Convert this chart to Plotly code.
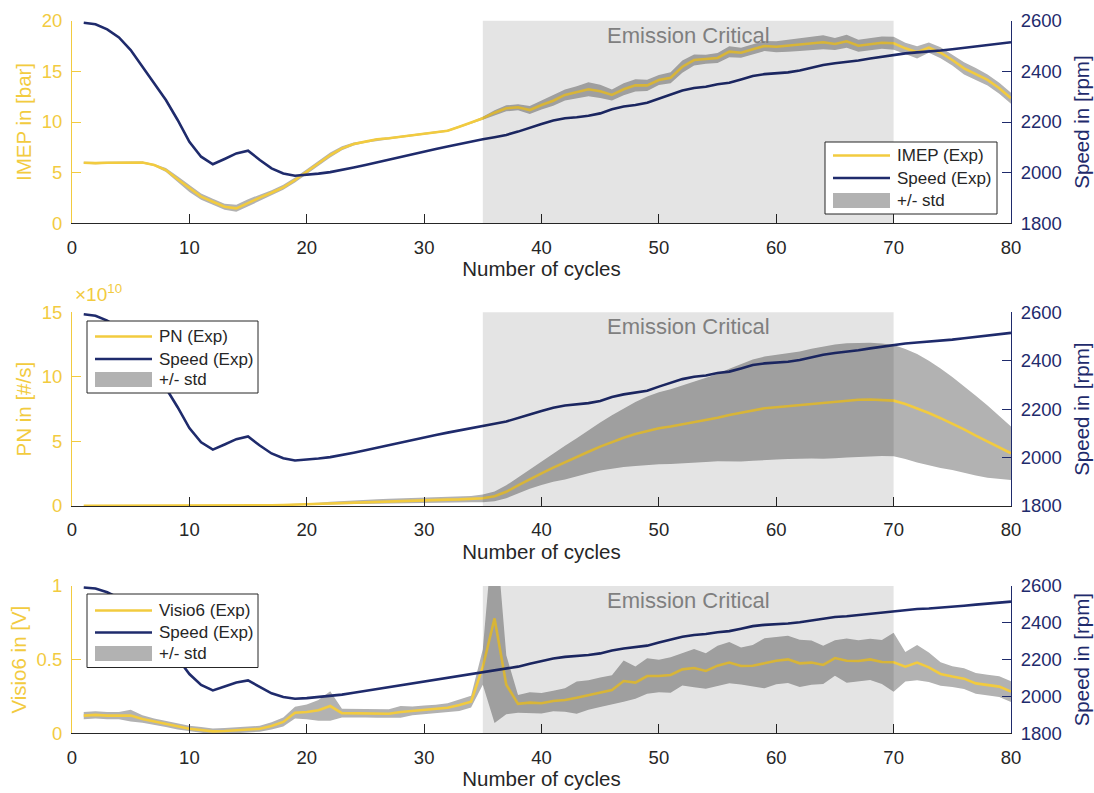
import plotly.graph_objects as go

# ---- data -------------------------------------------------------------
cycles = list(range(1, 81))

speed_rpm = [2592, 2586, 2566, 2534, 2484, 2418, 2353, 2287, 2208, 2122,
             2063, 2033, 2054, 2076, 2087, 2050, 2017, 1997, 1988, 1991,
             1996, 2002, 2010, 2020, 2030, 2041, 2050, 2061, 2072, 2083,
             2093, 2103, 2113, 2122, 2132, 2140, 2149, 2162, 2178, 2192,
             2206, 2215, 2219, 2225, 2234, 2250, 2261, 2267, 2276, 2293,
             2309, 2324, 2334, 2339, 2349, 2355, 2368, 2382, 2389, 2392,
             2396, 2403, 2414, 2425, 2432, 2436, 2443, 2451, 2458, 2463,
             2471, 2475, 2478, 2482, 2487, 2493, 2499, 2504, 2509, 2515]

imep_bar = [5.98, 5.94, 5.98, 5.98, 6.04, 6.00, 5.75, 5.26, 4.34, 3.45,
            2.63, 2.13, 1.64, 1.48, 2.03, 2.53, 3.02, 3.55, 4.27, 5.09,
            5.92, 6.74, 7.40, 7.83, 8.06, 8.29, 8.39, 8.55, 8.70, 8.88,
            9.00, 9.14, 9.54, 9.93, 10.37, 10.92, 11.35, 11.45, 11.18, 11.68,
            12.10, 12.67, 12.93, 13.23, 13.03, 12.67, 13.23, 13.62, 13.62, 14.15,
            14.37, 15.46, 16.12, 16.19, 16.32, 16.94, 16.84, 17.18, 17.50, 17.43,
            17.53, 17.67, 17.77, 17.87, 17.70, 17.97, 17.53, 17.70, 17.83, 17.77,
            17.27, 16.88, 17.34, 16.84, 16.12, 15.30, 14.74, 14.15, 13.33, 12.34]

imep_std = [0.10, 0.10, 0.10, 0.10, 0.10, 0.10, 0.10, 0.20, 0.30, 0.35,
            0.30, 0.30, 0.30, 0.35, 0.35, 0.30, 0.25, 0.25, 0.25, 0.25,
            0.25, 0.25, 0.20, 0.15, 0.10, 0.10, 0.10, 0.10, 0.10, 0.10,
            0.10, 0.10, 0.10, 0.10, 0.15, 0.25, 0.30, 0.30, 0.40, 0.45,
            0.50, 0.55, 0.60, 0.70, 0.65, 0.55, 0.60, 0.60, 0.55, 0.50,
            0.55, 0.60, 0.55, 0.45, 0.50, 0.55, 0.50, 0.50, 0.50, 0.55,
            0.60, 0.65, 0.65, 0.70, 0.60, 0.65, 0.60, 0.60, 0.60, 0.65,
            0.55, 0.60, 0.50, 0.55, 0.55, 0.60, 0.60, 0.55, 0.55, 0.55]

# particle number in units of 1e10 #/s
pn_e10 = [0.02, 0.02, 0.02, 0.02, 0.02, 0.02, 0.02, 0.02, 0.02, 0.02,
          0.02, 0.02, 0.03, 0.03, 0.03, 0.04, 0.06, 0.08, 0.11, 0.14,
          0.18, 0.22, 0.26, 0.30, 0.33, 0.36, 0.39, 0.41, 0.43, 0.45,
          0.47, 0.49, 0.51, 0.54, 0.60, 0.75, 1.10, 1.60, 2.09, 2.53,
          2.97, 3.36, 3.77, 4.20, 4.60, 4.96, 5.29, 5.58, 5.83, 6.02,
          6.15, 6.32, 6.48, 6.66, 6.84, 7.05, 7.23, 7.42, 7.57, 7.65,
          7.74, 7.82, 7.92, 8.00, 8.10, 8.18, 8.23, 8.25, 8.23, 8.16,
          7.90, 7.57, 7.20, 6.80, 6.38, 5.94, 5.45, 4.98, 4.53, 4.08]

pn_std_e10 = [0.01, 0.01, 0.01, 0.01, 0.01, 0.01, 0.01, 0.01, 0.01, 0.01,
              0.01, 0.01, 0.01, 0.01, 0.01, 0.02, 0.03, 0.04, 0.05, 0.06,
              0.08, 0.10, 0.12, 0.14, 0.15, 0.16, 0.17, 0.18, 0.19, 0.20,
              0.20, 0.21, 0.22, 0.24, 0.30, 0.38, 0.50, 0.62, 0.76, 0.90,
              1.10, 1.30, 1.48, 1.67, 1.86, 2.06, 2.27, 2.48, 2.65, 2.79,
              2.90, 3.02, 3.14, 3.26, 3.38, 3.58, 3.78, 3.92, 4.00, 4.05,
              4.10, 4.15, 4.25, 4.35, 4.41, 4.42, 4.42, 4.40, 4.36, 4.30,
              4.26, 4.20, 4.05, 3.85, 3.60, 3.35, 3.08, 2.80, 2.45, 2.07]

visio6_v = [0.120, 0.125, 0.120, 0.120, 0.120, 0.097, 0.080, 0.063, 0.045, 0.031,
            0.022, 0.013, 0.016, 0.020, 0.025, 0.031, 0.050, 0.077, 0.140, 0.145,
            0.156, 0.185, 0.137, 0.137, 0.137, 0.135, 0.133, 0.145, 0.152, 0.158,
            0.163, 0.174, 0.192, 0.215, 0.450, 0.780, 0.330, 0.200, 0.208, 0.204,
            0.219, 0.226, 0.242, 0.260, 0.278, 0.294, 0.355, 0.344, 0.389, 0.389,
            0.396, 0.434, 0.443, 0.423, 0.459, 0.480, 0.457, 0.459, 0.475, 0.493,
            0.502, 0.475, 0.480, 0.464, 0.511, 0.493, 0.491, 0.502, 0.484, 0.482,
            0.452, 0.480, 0.448, 0.403, 0.385, 0.371, 0.339, 0.328, 0.317, 0.283]

visio6_std = [0.025, 0.025, 0.025, 0.025, 0.040, 0.025, 0.020, 0.020, 0.020, 0.020,
              0.020, 0.020, 0.020, 0.020, 0.020, 0.020, 0.025, 0.030, 0.040, 0.050,
              0.070, 0.100, 0.030, 0.030, 0.030, 0.030, 0.030, 0.040, 0.030, 0.030,
              0.030, 0.030, 0.040, 0.040, 0.120, 0.710, 0.200, 0.060, 0.070, 0.070,
              0.070, 0.080, 0.110, 0.100, 0.100, 0.100, 0.140, 0.110, 0.120, 0.110,
              0.120, 0.110, 0.130, 0.120, 0.135, 0.140, 0.125, 0.140, 0.170, 0.160,
              0.160, 0.160, 0.150, 0.130, 0.120, 0.150, 0.140, 0.140, 0.150, 0.200,
              0.100, 0.120, 0.100, 0.080, 0.070, 0.070, 0.070, 0.070, 0.070, 0.070]

critical_window = [35, 70]
x_ticks = [0, 10, 20, 30, 40, 50, 60, 70, 80]
speed_ticks = [1800, 2000, 2200, 2400, 2600]

# ---- styling ----------------------------------------------------------
W, H = 1094, 793
YELLOW = "#F2CB3F"
NAVY = "#1F2B6C"
DARK = "#262626"
BAND = "#B2B2B2"
FONT = "Liberation Sans, Arial, sans-serif"
TICK_SIZE = 18.5
TITLE_SIZE = 20.5

x_dom = [72 / W, 1011 / W]
# panel vertical extents in pixels (top, bottom)
panels_px = [(20.7, 223.3), (312.3, 506.0), (586.0, 733.3)]


def ydom(top, bottom):
    return [1 - bottom / H, 1 - top / H]


fig = go.Figure()


def add_panel(i, mean, std, left_name):
    xa = "x" if i == 0 else f"x{i + 1}"
    yl = "y" if i == 0 else f"y{2 * i + 1}"
    yr = f"y{2 * i + 2}"
    upper = [m + s for m, s in zip(mean, std)]
    lower = [m - s for m, s in zip(mean, std)]
    fig.add_trace(go.Scatter(
        x=cycles + cycles[::-1], y=upper + lower[::-1], fill="toself",
        fillcolor=BAND, line=dict(width=0), mode="lines",
        hoverinfo="skip", showlegend=False, xaxis=xa, yaxis=yl))
    fig.add_trace(go.Scatter(
        x=cycles, y=mean, mode="lines", line=dict(color=YELLOW, width=2.6),
        name=left_name, showlegend=False, xaxis=xa, yaxis=yl))
    fig.add_trace(go.Scatter(
        x=cycles, y=speed_rpm, mode="lines", line=dict(color=NAVY, width=2.6),
        name="Speed (Exp)", showlegend=False, xaxis=xa, yaxis=yr))


add_panel(0, imep_bar, imep_std, "IMEP (Exp)")
add_panel(1, pn_e10, pn_std_e10, "PN (Exp)")
add_panel(2, visio6_v, visio6_std, "Visio6 (Exp)")

layout = dict(
    width=W, height=H, margin=dict(l=0, r=0, t=0, b=0, autoexpand=False),
    paper_bgcolor="white", plot_bgcolor="white",
    font=dict(family=FONT, size=18, color=DARK),
    showlegend=False,
)

left_specs = [
    ("IMEP in [bar]", [0, 20], [0, 5, 10, 15, 20], ["0", "5", "10", "15", "20"]),
    ("PN in [#/s]", [0, 15], [0, 5, 10, 15], ["0", "5", "10", "15"]),
    ("Visio6 in [V]", [0, 1], [0, 0.5, 1], ["0", "0.5", "1"]),
]

for i, (top, bottom) in enumerate(panels_px):
    dom = ydom(top, bottom)
    xkey = "xaxis" if i == 0 else f"xaxis{i + 1}"
    ylkey = "yaxis" if i == 0 else f"yaxis{2 * i + 1}"
    yrkey = f"yaxis{2 * i + 2}"
    yl_id = "y" if i == 0 else f"y{2 * i + 1}"
    x_id = "x" if i == 0 else f"x{i + 1}"
    title, rng, tv, tt = left_specs[i]
    layout[xkey] = dict(
        domain=x_dom, anchor=yl_id, range=[0, 80], tickvals=x_ticks,
        ticks="inside", ticklen=9, tickcolor=DARK, tickwidth=1,
        showline=True, linecolor=DARK, linewidth=1,
        showgrid=False, zeroline=False, automargin=False,
        tickfont=dict(size=TICK_SIZE, color=DARK), ticklabelstandoff=7,
        title=dict(text="Number of cycles",
                   font=dict(size=TITLE_SIZE, color=DARK), standoff=5),
    )
    layout[ylkey] = dict(
        domain=dom, anchor=x_id, range=rng, tickvals=tv, ticktext=tt,
        ticks="inside", ticklen=9, tickcolor=YELLOW, tickwidth=1,
        showline=True, linecolor=YELLOW, linewidth=1,
        showgrid=False, zeroline=False, automargin=False,
        tickfont=dict(size=TICK_SIZE, color=YELLOW), ticklabelstandoff=5,
        title=dict(text=title, font=dict(size=TITLE_SIZE, color=YELLOW),
                   standoff=4),
    )
    layout[yrkey] = dict(
        domain=dom, anchor=x_id, overlaying=yl_id, side="right",
        range=[1800, 2600], tickvals=speed_ticks,
        ticks="inside", ticklen=9, tickcolor=NAVY, tickwidth=1,
        showline=True, linecolor=NAVY, linewidth=1,
        showgrid=False, zeroline=False, automargin=False,
        tickfont=dict(size=TICK_SIZE, color=NAVY), ticklabelstandoff=5,
        title=dict(text="Speed in [rpm]", font=dict(size=TITLE_SIZE, color=NAVY),
                   standoff=13),
    )

fig.update_layout(**layout)

shapes = []
annotations = []

# shaded emission-critical window, laid over the data
for i in range(3):
    x_id = "x" if i == 0 else f"x{i + 1}"
    yl_id = "y" if i == 0 else f"y{2 * i + 1}"
    shapes.append(dict(
        type="rect", xref=x_id, yref=f"{yl_id} domain",
        x0=critical_window[0], x1=critical_window[1], y0=0, y1=1,
        fillcolor="rgba(0,0,0,0.105)", line=dict(width=0), layer="above"))
    annotations.append(dict(
        text="Emission Critical", xref=x_id, yref=f"{yl_id} domain",
        x=sum(critical_window) / 2, y=1, yanchor="top", xanchor="center",
        yshift=0, showarrow=False,
        font=dict(size=22, color="#7F7F7F", family=FONT)))

# exponent label of the PN axis
annotations.append(dict(
    text="×10<sup>10</sup>", xref="paper", yref="paper",
    x=73 / W, y=1 - 307 / H, xanchor="left", yanchor="bottom",
    showarrow=False, font=dict(size=19, color=YELLOW, family=FONT)))


def px(xp):
    return xp / W


def py(yp):
    return 1 - yp / H


def draw_legend(box, rows, label_first):
    x0, y0, x1, y1 = box
    shapes.append(dict(type="rect", xref="paper", yref="paper",
                       x0=px(x0), x1=px(x1), y0=py(y1), y1=py(y0),
                       fillcolor="white", line=dict(color=DARK, width=1),
                       layer="above"))
    sx0, sx1 = x0 + 8, x0 + 65
    labels = [label_first, "Speed (Exp)", "+/- std"]
    colors = [YELLOW, NAVY, None]
    for k, (yc, lab, col) in enumerate(zip(rows, labels, colors)):
        if col:
            shapes.append(dict(type="line", xref="paper", yref="paper",
                               x0=px(sx0), x1=px(sx1), y0=py(yc), y1=py(yc),
                               line=dict(color=col, width=2.6), layer="above"))
        else:
            shapes.append(dict(type="rect", xref="paper", yref="paper",
                               x0=px(sx0), x1=px(sx1),
                               y0=py(yc + 7.5), y1=py(yc - 7.5),
                               fillcolor=BAND, line=dict(width=0),
                               layer="above"))
        annotations.append(dict(
            text=lab, xref="paper", yref="paper", x=px(x0 + 70), y=py(yc),
            xanchor="left", yanchor="middle", showarrow=False,
            font=dict(size=17, color=DARK, family=FONT)))


draw_legend((825, 142, 997, 214), [155.5, 178, 200.5], "IMEP (Exp)")
draw_legend((87, 321, 258, 393), [336.5, 359, 379.5], "PN (Exp)")
draw_legend((87, 594, 258, 667.5), [610.5, 632.5, 653.5], "Visio6 (Exp)")

fig.update_layout(shapes=shapes, annotations=annotations)

fig.write_html("out.html")
